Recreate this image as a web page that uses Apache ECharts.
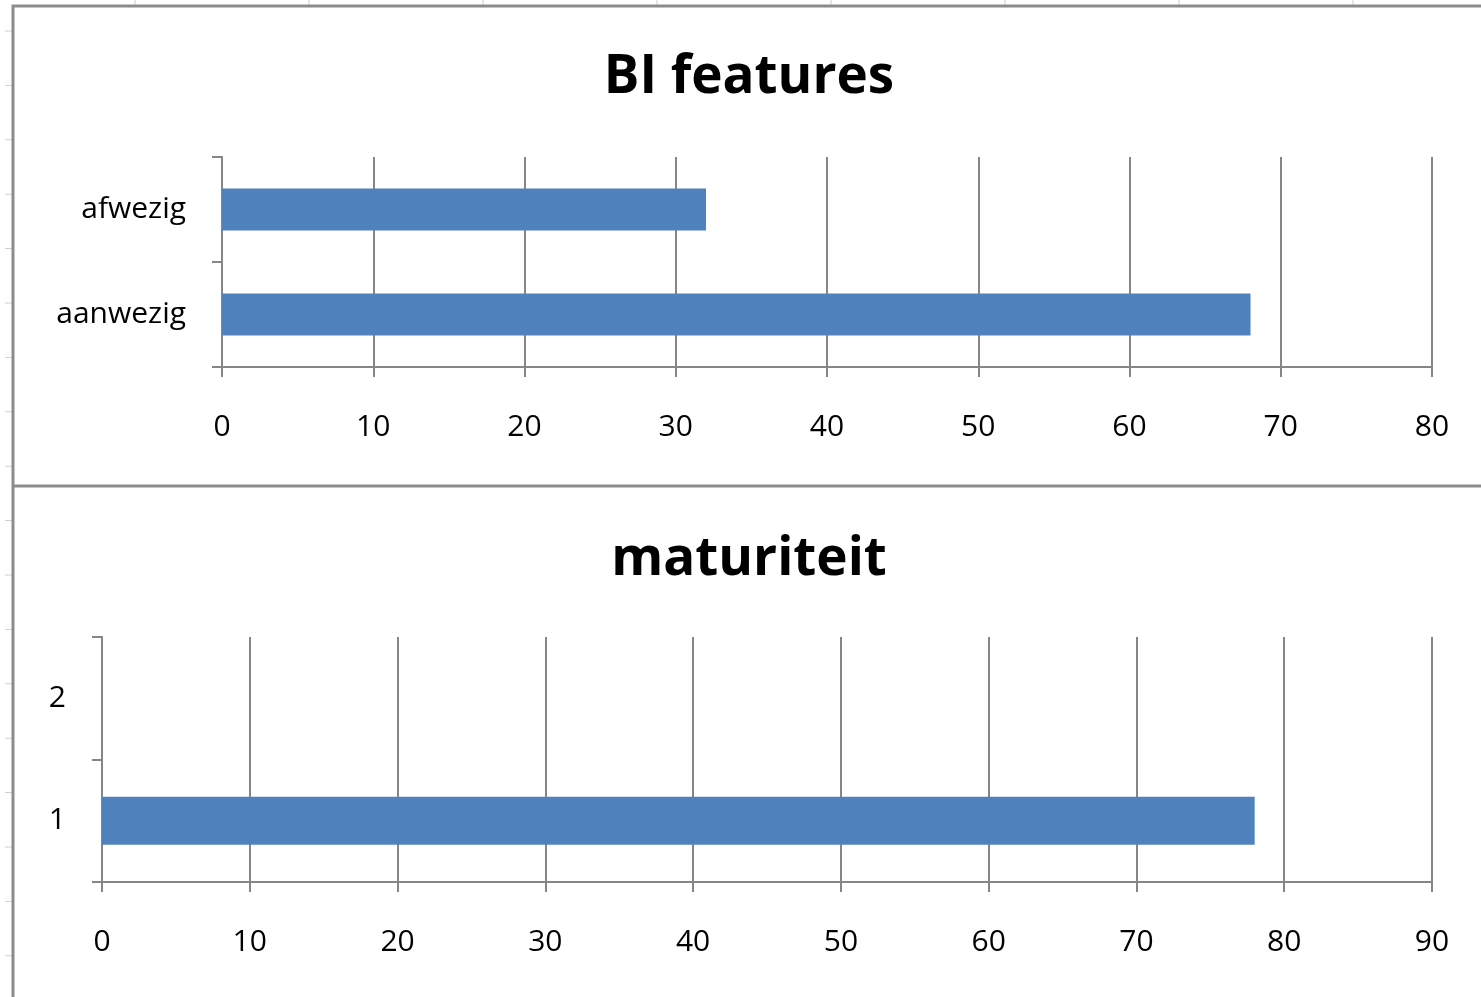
<!DOCTYPE html>
<html>
<head>
<meta charset="utf-8">
<script src="https://cdn.jsdelivr.net/npm/echarts@6/dist/echarts.min.js"></script>
<style>
  html, body { margin: 0; padding: 0; background: #fff; }
  #main { width: 1481px; height: 997px; }
</style>
</head>
<body>
<div id="main"></div>
<script>
// BI features
const featureCats = ['aanwezig', 'afwezig'];
const featureValues = [68, 32];
// maturiteit
const maturityCats = ['1', '2'];
const maturityValues = [78, null];

const barColor = '#4f81bd';
const lineColor = '#868686';
const font = 'Open Sans';

const myChart = echarts.init(document.getElementById('main'));

// spreadsheet cell markers behind the charts
let deco = [];
[135, 309, 483, 657, 831, 1005, 1179, 1353].forEach(function (x) {
    deco.push({type: 'line', shape: {x1: x, y1: 0, x2: x, y2: 5}, style: {stroke: '#c5cfe0', lineWidth: 1}});
});
for (let y = 31; y < 997; y += 54.4) {
    deco.push({type: 'line', shape: {x1: 5, y1: y, x2: 12, y2: y}, style: {stroke: '#c5cfe0', lineWidth: 1}});
}
deco.push({type: 'polyline', shape: {points: [[13, 997], [13, 6], [1481, 6]]}, style: {stroke: '#8c8c8c', lineWidth: 3, fill: null}});
deco.push({type: 'line', shape: {x1: 13, y1: 486, x2: 1481, y2: 486}, style: {stroke: '#8c8c8c', lineWidth: 3}});

function valueAxis(idx, max) {
    return {
        type: 'value', gridIndex: idx, min: 0, max: max, interval: 10,
        axisLine: {show: true, lineStyle: {color: lineColor, width: 2}},
        axisTick: {show: true, length: 10, lineStyle: {color: lineColor, width: 2}},
        splitLine: {show: true, lineStyle: {color: lineColor, width: 2}},
        axisLabel: {color: '#000', fontFamily: font, fontSize: 30, margin: 45}
    };
}
function catAxis(idx, cats) {
    return {
        type: 'category', gridIndex: idx, data: cats,
        axisLine: {show: true, lineStyle: {color: lineColor, width: 2}},
        axisTick: {show: true, length: 10, lineStyle: {color: lineColor, width: 2}},
        axisLabel: {color: '#000', fontFamily: font, fontSize: 30, margin: 36}
    };
}

const option = {
    animation: false,
    graphic: deco,
    title: [
        {text: 'BI features', left: 744, top: 46, textAlign: 'center',
         textStyle: {fontFamily: font, fontWeight: 'bold', fontSize: 53, color: '#000'}},
        {text: 'maturiteit', left: 744, top: 528, textAlign: 'center',
         textStyle: {fontFamily: font, fontWeight: 'bold', fontSize: 53, color: '#000'}}
    ],
    grid: [
        {left: 222, right: 49, top: 157, height: 210},
        {left: 102, right: 49, top: 637, height: 245}
    ],
    xAxis: [valueAxis(0, 80), valueAxis(1, 90)],
    yAxis: [catAxis(0, featureCats), catAxis(1, maturityCats)],
    series: [
        {type: 'bar', xAxisIndex: 0, yAxisIndex: 0, data: featureValues,
         barWidth: '40%', itemStyle: {color: barColor}},
        {type: 'bar', xAxisIndex: 1, yAxisIndex: 1, data: maturityValues,
         barWidth: '39%', itemStyle: {color: barColor}}
    ]
};
myChart.setOption(option);
</script>
</body>
</html>
